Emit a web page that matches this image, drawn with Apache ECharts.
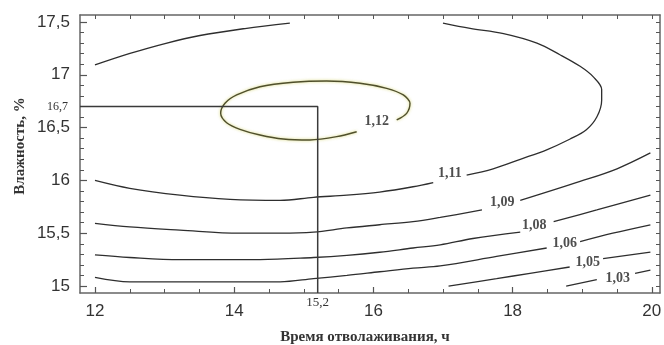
<!DOCTYPE html>
<html><head><meta charset="utf-8">
<script src="https://cdn.jsdelivr.net/npm/echarts@6/dist/echarts.min.js"></script>
<style>html,body{margin:0;padding:0;background:#fff}#c{width:664px;height:345px}</style>
</head><body><div id="c"></div>
<script>
// ---- data ----
const xLabelTicks = [12, 14, 16, 18, 20];
const yLabelTicks = [15, 15.5, 16, 16.5, 17, 17.5];
const xMarked = 15.2;
const yMarked = 16.7;
const xTitle = 'Время отволаживания, ч';
const yTitle = 'Влажность, %';

// contour 1.12 (closed loop, open at its label)
const c112 = [[15.76,16.461],[15.473,16.414],[15.089,16.383],[14.705,16.392],[14.371,16.430],[14.083,16.484],[13.892,16.546],[13.806,16.635],[13.868,16.730],[14.036,16.809],[14.371,16.887],[14.849,16.929],[15.329,16.941],[15.807,16.920],[16.191,16.872],[16.430,16.809],[16.526,16.730],[16.478,16.635],[16.335,16.572]];
// contour 1.11
const c111a = [[12.0,17.093],[12.503,17.202],[13.006,17.296],[13.509,17.372],[14.155,17.438],[14.80,17.49]];
const c111b = [[17.34,16.05],[17.72,16.11],[18.11,16.20],[18.49,16.29],[18.82,16.39],[19.06,16.48],[19.21,16.60],[19.28,16.76],[19.28,16.86],[19.16,16.98],[18.97,17.08],[18.68,17.19],[18.35,17.30],[17.87,17.39],[17.39,17.44],[17.00,17.49]];
const c111c = [[12.0,16.0],[12.50,15.925],[13.22,15.86],[13.94,15.82],[14.66,15.81],[15.14,15.84],[15.62,15.86],[16.09,15.89],[16.57,15.94],[16.86,15.98]];
// contour 1.09
const c109a = [[12.0,15.594],[12.50,15.56],[13.22,15.53],[14.08,15.50],[14.66,15.50],[15.14,15.51],[15.62,15.55],[16.09,15.58],[16.57,15.61],[16.96,15.65],[17.56,15.72]];
const c109b = [[18.11,15.81],[18.97,15.99],[19.50,16.11],[19.98,16.26]];
// contour 1.08
const c108a = [[12.0,15.294],[12.50,15.27],[13.22,15.25],[14.37,15.25],[15.14,15.27],[15.62,15.29],[16.09,15.32],[16.57,15.36],[16.96,15.39],[17.43,15.45],[18.11,15.51]];
const c108b = [[18.59,15.61],[19.21,15.72],[19.98,15.86]];
// contour 1.06
const c106a = [[12.0,15.082],[12.50,15.04],[13.22,15.04],[14.66,15.04],[15.14,15.07],[15.62,15.10],[16.09,15.135],[16.57,15.17],[16.96,15.19],[17.77,15.28],[18.49,15.36]];
const c106b = [[18.97,15.42],[19.44,15.50],[19.98,15.58]];
// contour 1.05
const c105a = [[17.08,15.0],[17.77,15.07],[18.25,15.12],[18.82,15.18]];
const c105b = [[19.30,15.26],[19.98,15.32]];
// contour 1.03
const c103a = [[18.77,15.0],[19.21,15.06]];
const c103b = [[19.76,15.12],[19.98,15.15]];

const contourLabels = ['1,12','1,11','1,09','1,08','1,06','1,05','1,03'];
const contourLabelPos = [[16.05,16.556],[17.10,16.07],[17.85,15.79],[18.31,15.57],[18.75,15.40],[19.08,15.22],[19.51,15.07]];

// ---- layout ----
const X_MIN = 11.785, X_MAX = 20.118, Y_MIN = 14.934, Y_MAX = 17.566;
const fmt = v => String(v).replace('.', ',');
const xMinor = []; for (let v = 12; v <= 20.001; v += 0.5) xMinor.push(+v.toFixed(1));
const yMinor = []; for (let v = 15; v <= 17.501; v += 0.1) yMinor.push(+v.toFixed(1));

const axisCol = '#666';
function baseAxis(extra, isX) {
  return Object.assign({
    type: 'value', min: isX ? X_MIN : Y_MIN, max: isX ? X_MAX : Y_MAX,
    splitLine: {show: false},
    axisLine: {show: false, onZero: false},
    axisTick: {show: false},
    axisLabel: {show: false}
  }, extra);
}

const xAxis = [
  baseAxis({position: 'bottom',
    axisLine: {show: true, onZero: false, lineStyle: {color: axisCol, width: 1.5}},
    axisTick: {show: true, inside: true, length: 6, customValues: xLabelTicks, lineStyle: {color: '#555', width: 1.2}},
    axisLabel: {show: true, customValues: xLabelTicks, formatter: fmt, margin: 10,
      fontFamily: 'Liberation Sans', fontSize: 17, color: '#333'}}, true),
  baseAxis({position: 'bottom',
    axisTick: {show: true, inside: true, length: 4, customValues: xMinor, lineStyle: {color: '#555', width: 1}}}, true),
  baseAxis({position: 'bottom',
    axisLabel: {show: true, customValues: [xMarked], formatter: fmt, margin: 3,
      fontFamily: 'Liberation Serif', fontSize: 13, color: '#333'}}, true),
  baseAxis({position: 'top',
    axisLine: {show: true, onZero: false, lineStyle: {color: axisCol, width: 1.5}},
    axisTick: {show: true, inside: true, length: 4, customValues: xMinor, lineStyle: {color: '#555', width: 1}}}, true)
];
const yAxis = [
  baseAxis({position: 'left',
    axisLine: {show: true, onZero: false, lineStyle: {color: axisCol, width: 1.5}},
    axisTick: {show: true, inside: true, length: 7, customValues: yLabelTicks, lineStyle: {color: '#555', width: 1.2}},
    axisLabel: {show: true, customValues: yLabelTicks, formatter: fmt, margin: 10,
      fontFamily: 'Liberation Sans', fontSize: 17, color: '#333'}}, false),
  baseAxis({position: 'left',
    axisTick: {show: true, inside: true, length: 4, customValues: yMinor, lineStyle: {color: '#555', width: 1}}}, false),
  baseAxis({position: 'left',
    axisLabel: {show: true, customValues: [yMarked], formatter: fmt, margin: 12, padding: [0,0,6,0],
      fontFamily: 'Liberation Serif', fontSize: 12, color: '#333'}}, false),
  baseAxis({position: 'right',
    axisLine: {show: true, onZero: false, lineStyle: {color: axisCol, width: 1.5}},
    axisTick: {show: true, inside: true, length: 4, customValues: yMinor, lineStyle: {color: '#555', width: 1}}}, false)
];

const segments = [c111a, c111b, c111c, c109a, c109b, c108a, c108b, c106a, c106b, c105a, c105b, c103a, c103b];
const series = segments.map(seg => ({
  type: 'line', data: seg, symbol: 'none', smooth: 0.35, silent: true,
  lineStyle: {color: '#2e2e2e', width: 1.3}
}));
series.push({
  type: 'line', data: c112, symbol: 'none', smooth: 0.3, silent: true,
  lineStyle: {color: '#4f4f2c', width: 1.4, shadowColor: 'rgba(200,200,70,0.8)', shadowBlur: 3}
});
series.push({
  type: 'line', data: [[X_MIN, yMarked], [xMarked, yMarked], [xMarked, Y_MIN]],
  symbol: 'none', silent: true, lineStyle: {color: '#3a3a3a', width: 1.5}
});
series.push({
  type: 'scatter', symbolSize: 0, silent: true,
  data: contourLabelPos.map((p, i) => ({value: p, name: contourLabels[i]})),
  label: {show: true, position: 'inside', formatter: '{b}',
    fontFamily: 'Liberation Serif', fontSize: 14, fontWeight: 'bold', color: '#222'}
});

const chart = echarts.init(document.getElementById('c'), null, {renderer: 'canvas'});
chart.setOption({
  animation: false,
  backgroundColor: '#fff',
  grid: {left: 80, right: 4, top: 15, bottom: 52, containLabel: false, outerBoundsMode: 'none'},
  xAxis, yAxis, series,
  graphic: [
    {type: 'text', x: 365, y: 337, silent: true,
     style: {text: xTitle, textAlign: 'center', textVerticalAlign: 'middle', align: 'center', verticalAlign: 'middle',
       font: 'bold 15px "Liberation Serif"', fill: '#333'}},
    {type: 'text', x: 20, y: 146, rotation: Math.PI / 2, silent: true,
     style: {text: yTitle, textAlign: 'center', textVerticalAlign: 'middle', align: 'center', verticalAlign: 'middle',
       font: 'bold 15px "Liberation Serif"', fill: '#333'}}
  ]
});
</script></body></html>
